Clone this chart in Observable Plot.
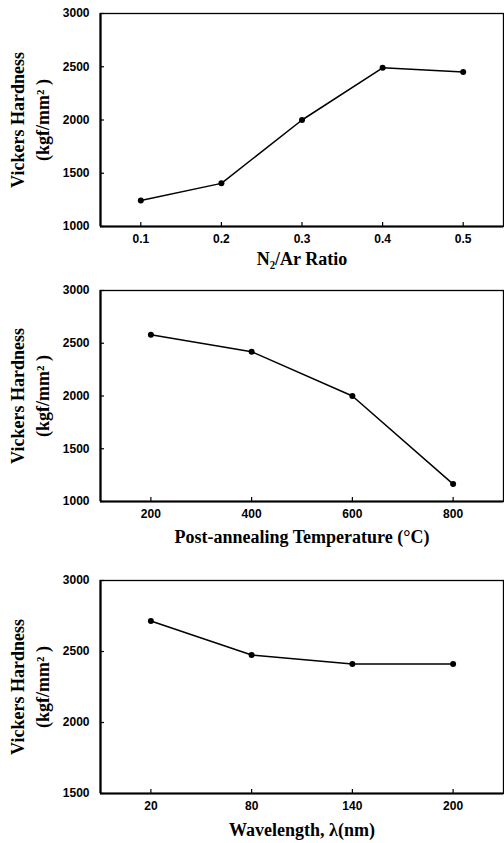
<!DOCTYPE html>
<html><head><meta charset="utf-8">
<script src="https://cdn.jsdelivr.net/npm/d3@7"></script>
<script src="https://cdn.jsdelivr.net/npm/@observablehq/plot@0.6"></script>
<style>
body{margin:0;background:#fff;}
#wrap{position:relative;width:504px;height:843px;background:#fff;}
.panel{position:absolute;left:0;}
</style></head><body>
<div id="wrap">
  <div class="panel" id="p1" style="top:0px"></div>
  <div class="panel" id="p2" style="top:277px"></div>
  <div class="panel" id="p3" style="top:567px"></div>
</div>
<script>
// Panel 1: N2/Ar ratio
const ratio = [0.1, 0.2, 0.3, 0.4, 0.5];
const hardnessRatio = [1245, 1405, 2000, 2490, 2450];
const ratioTicks = [0.1, 0.2, 0.3, 0.4, 0.5];
// Panel 2: post-annealing temperature
const temperature = [200, 400, 600, 800];
const hardnessTemp = [2580, 2420, 2000, 1165];
const tempTicks = [200, 400, 600, 800];
// Panel 3: wavelength
const wavelength = [20, 80, 140, 200];
const hardnessWave = [2715, 2475, 2412, 2412];
const waveTicks = [20, 80, 140, 200];

const yTicksA = [1000, 1500, 2000, 2500, 3000];
const yTicksB = [1500, 2000, 2500, 3000];
const yLabel1 = "Vickers Hardness";
const yLabel2 = "(kgf/mm\u00B2 )";

const serif = "'Liberation Serif', 'Times New Roman', serif";

function panel({xs, ys, xDomain, yDomain, xTicks, yTicks, xLabel, height, innerH, labelDy, fmt}) {
  const data = xs.map((x, i) => ({x, y: ys[i]}));
  return Plot.plot({
    width: 504, height,
    marginLeft: 100, marginRight: 1, marginTop: 13, marginBottom: height - 13 - innerH,
    x: {domain: xDomain, label: null},
    y: {domain: yDomain, label: null},
    style: {fontFamily: "'Liberation Sans', Arial, sans-serif", fontSize: "12px", fontWeight: "bold", color: "black", background: "white", overflow: "visible"},
    marks: [
      Plot.frame({stroke: "black", strokeWidth: 1.3}),
      Plot.ruleX([xDomain[0]], {stroke: "black", strokeWidth: 2.2}),
      Plot.ruleY([yDomain[0]], {stroke: "black", strokeWidth: 2.2}),
      Plot.axisY({ticks: yTicks, tickSize: -4, text: null, label: null, strokeWidth: 1.2}),
      Plot.axisY({ticks: yTicks, tickSize: 0, tickPadding: 11, label: null, fill: "black", letterSpacing: "0.5px", tickFormat: d => String(d)}),
      Plot.axisX({ticks: xTicks, tickSize: -4, text: null, label: null, strokeWidth: 1.2}),
      Plot.axisX({ticks: xTicks, tickSize: 0, tickPadding: 8, label: null, fill: "black", letterSpacing: "0.5px", tickFormat: fmt}),
      Plot.line(data, {x: "x", y: "y", stroke: "black", strokeWidth: 1.5}),
      Plot.dot(data, {x: "x", y: "y", r: 3, fill: "black", stroke: "none"}),
      Plot.text([yLabel1], {text: d => d, frameAnchor: "left", textAnchor: "middle", lineAnchor: "middle", rotate: -90, dx: -82, fontFamily: serif, fontSize: 18, fontWeight: "bold", fill: "black"}),
      Plot.text([yLabel2], {text: d => d, frameAnchor: "left", textAnchor: "middle", lineAnchor: "middle", rotate: -90, dx: -57, fontFamily: serif, fontSize: 18, fontWeight: "bold", fill: "black"}),
      Plot.text([xLabel], {text: d => d, frameAnchor: "bottom", textAnchor: "middle", lineAnchor: "middle", dy: labelDy, fontFamily: serif, fontSize: 18, fontWeight: "bold", fill: "black"})
    ]
  });
}

document.getElementById("p1").append(panel({
  xs: ratio, ys: hardnessRatio, xDomain: [0.05, 0.55], yDomain: [1000, 3000],
  xTicks: ratioTicks, yTicks: yTicksA, xLabel: "N\u2082/Ar Ratio", height: 276, innerH: 213, labelDy: 33, fmt: d => d.toFixed(1)
}));
document.getElementById("p2").append(panel({
  xs: temperature, ys: hardnessTemp, xDomain: [100, 900], yDomain: [1000, 3000],
  xTicks: tempTicks, yTicks: yTicksA, xLabel: "Post-annealing Temperature (\u00B0C)", height: 274, innerH: 211, labelDy: 36, fmt: d => String(d)
}));
document.getElementById("p3").append(panel({
  xs: wavelength, ys: hardnessWave, xDomain: [-10, 230], yDomain: [1500, 3000],
  xTicks: waveTicks, yTicks: yTicksB, xLabel: "Wavelength, \u03BB(nm)", height: 276, innerH: 213, labelDy: 37, fmt: d => String(d)
}));
</script>
</body></html>
